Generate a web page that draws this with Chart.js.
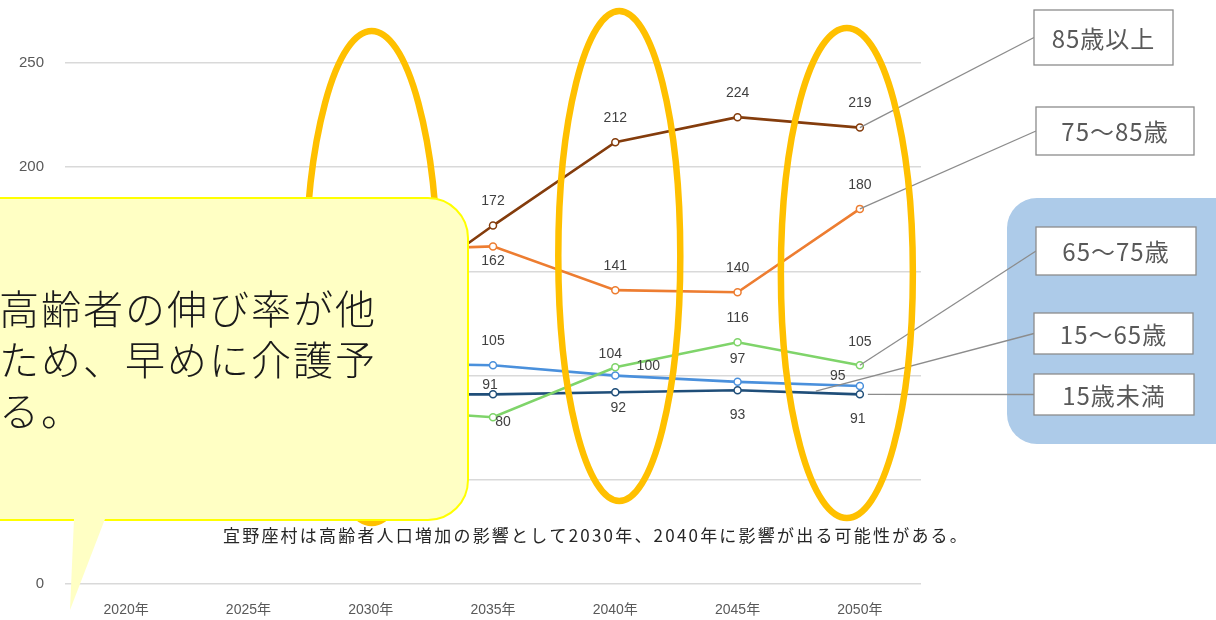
<!DOCTYPE html>
<html lang="ja">
<head>
<meta charset="utf-8">
<title>年齢区分別人口の推移</title>
<style>
  html, body { margin: 0; padding: 0; background: #fff; overflow: hidden; }
  #wrap { position: relative; width: 1216px; height: 620px; }
</style>
<script src="https://cdn.jsdelivr.net/npm/chart.js@4.4.1/dist/chart.umd.min.js"></script>
</head>
<body>
<div id="wrap"><canvas id="chart" width="1216" height="620"></canvas></div>
<script>
/* ── Data ── */
const years = ['2020年', '2025年', '2030年', '2035年', '2040年', '2045年', '2050年'];
const over85    = [100, 112, 130, 172, 212, 224, 219];
const age75to85 = [100, 128, 160, 162, 141, 140, 180];
const age65to75 = [100, 98, 84, 80, 104, 116, 105];
const age15to65 = [100, 103, 106, 105, 100, 97, 95];
const under15   = [100, 95, 91, 91, 92, 93, 91];
const yTicks = [0, 50, 100, 150, 200, 250];
const seriesNames = ['85歳以上', '75～85歳', '65～75歳', '15～65歳', '15歳未満'];
const caption = '宜野座村は高齢者人口増加の影響として2030年、2040年に影響が出る可能性がある。';
const calloutLines = ['高齢者の伸び率が他', 'ため、早めに介護予', 'る。'];

const CJK = "'Noto Sans CJK JP', 'Noto Sans', sans-serif";
const NUM = "'Liberation Sans', 'Noto Sans CJK JP', sans-serif";

/* ── Per-series styling (label offsets relative to each point) ── */
const up = [0, -24];
const seriesStyle = [
  { color: '#843C0C', labels: [up, up, up, up, up, up, up],                       leadFrom: [0, 0],   box: [1034, 10, 139, 55] },
  { color: '#ED7D31', labels: [up, up, up, [0, 15], up, up, up],                  leadFrom: [0, 0],   box: [1036, 107, 158, 48] },
  { color: '#7FD46A', labels: [up, up, up, [10, 5], [-5, -13], up, [0, -23]],     leadFrom: [0, 0],   box: [1036, 227, 160, 48] },
  { color: '#4A90DC', labels: [up, up, up, up, [33, -9], [0, -23], [-22, -10]],   leadFrom: [-44, 5], box: [1034, 313, 159, 41] },
  { color: '#1F4E79', labels: [up, up, up, [-3, -9], [3, 16], [0, 25], [-2, 25]], leadFrom: [8, 0],   box: [1034, 374, 160, 41] }
];
const seriesData = [over85, age75to85, age65to75, age15to65, under15];

/* ── Helpers ── */
function roundRect(ctx, x, y, w, h, r) {
  ctx.beginPath();
  ctx.moveTo(x + r, y);
  ctx.arcTo(x + w, y, x + w, y + h, r);
  ctx.arcTo(x + w, y + h, x, y + h, r);
  ctx.arcTo(x, y + h, x, y, r);
  ctx.arcTo(x, y, x + w, y, r);
  ctx.closePath();
}

function fitText(ctx, text, x, y, width) {
  ctx.letterSpacing = '0px';
  const w = ctx.measureText(text).width;
  ctx.letterSpacing = ((width - w) / text.length) + 'px';
  ctx.fillText(text, x, y);
  ctx.letterSpacing = '0px';
}

/* ── Data labels ── */
const pointLabels = {
  id: 'pointLabels',
  afterDatasetsDraw(chart) {
    const ctx = chart.ctx;
    ctx.save();
    ctx.font = '14px ' + NUM;
    ctx.fillStyle = '#404040';
    ctx.textAlign = 'center';
    ctx.textBaseline = 'middle';
    chart.data.datasets.forEach((ds, i) => {
      chart.getDatasetMeta(i).data.forEach((pt, j) => {
        const off = seriesStyle[i].labels[j];
        ctx.fillText(String(ds.data[j]), pt.x + off[0], pt.y + off[1]);
      });
    });
    ctx.restore();
  }
};

/* ── Annotations: panel, leaders, ellipses, callout, legend boxes, caption ── */
const annotations = {
  id: 'annotations',
  afterDraw(chart) {
    const ctx = chart.ctx;
    const xs = chart.scales.x;
    ctx.save();

    // blue group panel (under the leader lines)
    ctx.fillStyle = '#ADCBE9';
    roundRect(ctx, 1007, 198, 240, 246, 30);
    ctx.fill();

    // leader lines from the last point of each series
    ctx.strokeStyle = '#8C8C8C';
    ctx.lineWidth = 1.3;
    seriesStyle.forEach((s, i) => {
      const meta = chart.getDatasetMeta(i);
      const last = meta.data[meta.data.length - 1];
      ctx.beginPath();
      ctx.moveTo(last.x + s.leadFrom[0], last.y + s.leadFrom[1]);
      ctx.lineTo(s.box[0], s.box[1] + s.box[3] / 2);
      ctx.stroke();
    });

    // highlight ellipses around 2030 / 2040 / 2050
    ctx.strokeStyle = '#FFC000';
    ctx.lineWidth = 6.5;
    [[2, 1, 277, 66, 246], [4, 4, 256, 61, 245], [6, -13, 273, 66, 245]].forEach(([idx, dx, cy, rx, ry]) => {
      ctx.beginPath();
      ctx.ellipse(xs.getPixelForValue(idx) + dx, cy, rx, ry, 0, 0, Math.PI * 2);
      ctx.stroke();
    });

    // yellow speech callout
    ctx.fillStyle = '#FFFFC4';
    ctx.strokeStyle = '#FFFF00';
    ctx.lineWidth = 2;
    roundRect(ctx, -60, 198, 528, 322, 40);
    ctx.fill();
    ctx.stroke();
    ctx.beginPath();
    ctx.moveTo(74, 519);
    ctx.lineTo(105, 519);
    ctx.lineTo(70, 610);
    ctx.closePath();
    ctx.fill();
    ctx.fillStyle = '#1A1A1A';
    ctx.font = '300 40px ' + CJK;
    ctx.textAlign = 'left';
    ctx.textBaseline = 'middle';
    ctx.letterSpacing = '2px';
    calloutLines.forEach((t, k) => ctx.fillText(t, -1, 309 + k * 51));
    ctx.letterSpacing = '0px';

    // label boxes
    ctx.font = '24px ' + CJK;
    ctx.textAlign = 'center';
    ctx.letterSpacing = '1px';
    seriesStyle.forEach((s, i) => {
      const [bx, by, bw, bh] = s.box;
      ctx.fillStyle = '#FFFFFF';
      ctx.fillRect(bx, by, bw, bh);
      ctx.strokeStyle = '#8C8C8C';
      ctx.lineWidth = 1.3;
      ctx.strokeRect(bx, by, bw, bh);
      ctx.fillStyle = '#595959';
      ctx.fillText(seriesNames[i], bx + bw / 2, by + bh / 2 + 1);
    });
    ctx.letterSpacing = '0px';

    // caption
    ctx.fillStyle = '#262626';
    ctx.font = '17px ' + CJK;
    ctx.textAlign = 'left';
    fitText(ctx, caption, 223, 536, 746);

    ctx.restore();
  }
};

/* ── Chart ── */
new Chart(document.getElementById('chart'), {
  type: 'line',
  data: {
    labels: years,
    datasets: seriesData.map((d, i) => ({
      label: seriesNames[i],
      data: d,
      borderColor: seriesStyle[i].color,
      backgroundColor: '#FFFFFF',
      pointBackgroundColor: '#FFFFFF',
      pointBorderColor: seriesStyle[i].color,
      pointRadius: 3.5,
      pointBorderWidth: 1.5,
      borderWidth: 2.6,
      tension: 0,
      fill: false
    }))
  },
  options: {
    responsive: false,
    animation: false,
    layout: { padding: { left: 0, right: 295, top: 63, bottom: 0 } },
    plugins: { legend: { display: false }, tooltip: { enabled: false } },
    scales: {
      x: {
        offset: true,
        grid: { display: false },
        border: { display: false },
        ticks: { color: '#595959', font: { family: NUM, size: 14 }, padding: 10 },
        afterFit: s => { s.height = 36; }
      },
      y: {
        min: 0,
        max: 250,
        afterBuildTicks: s => { s.ticks = yTicks.map(v => ({ value: v })); },
        grid: { color: '#D9D9D9', lineWidth: 1.5, drawTicks: false },
        border: { display: false },
        ticks: { color: '#595959', font: { family: NUM, size: 15 }, padding: 21 },
        afterFit: s => { s.width = 65; }
      }
    }
  },
  plugins: [pointLabels, annotations]
});
</script>
</body>
</html>
